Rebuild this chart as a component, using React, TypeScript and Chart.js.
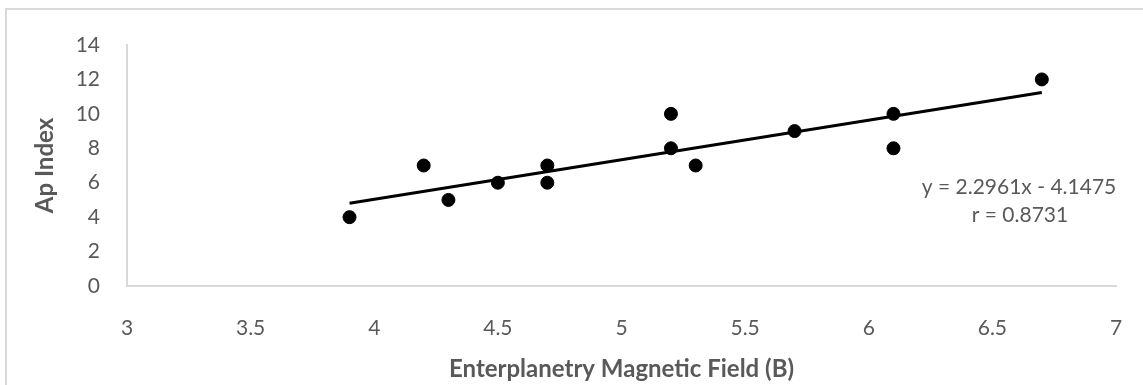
import React, { useEffect, useRef } from "react";
import { Chart, registerables } from "chart.js";

Chart.register(...registerables);

const fieldB = [3.9, 4.2, 4.3, 4.5, 4.7, 4.7, 5.2, 5.2, 5.3, 5.7, 6.1, 6.1, 6.7];
const apIndex = [4, 7, 5, 6, 7, 6, 10, 8, 7, 9, 10, 8, 12];
const trendSlope = 2.2961;
const trendIntercept = -4.1475;
const trendX = [3.9, 6.7];
const equationLines = ["y = 2.2961x - 4.1475", "r = 0.8731"];
const xTitle = "Enterplanetry Magnetic Field (B)";
const yTitle = "Ap Index";

const TEXT = "#595959";
const FONT = "Lato, 'Open Sans', sans-serif";

export default function App() {
  const ref = useRef<HTMLCanvasElement | null>(null);

  useEffect(() => {
    if (!ref.current) return;
    const equationPlugin = {
      id: "equation",
      afterDatasetsDraw(chart: any) {
        const ctx = chart.ctx;
        ctx.save();
        ctx.fillStyle = TEXT;
        ctx.font = `21px ${FONT}`;
        ctx.textAlign = "center";
        ctx.textBaseline = "middle";
        ctx.fillText(equationLines[0], 1019, 187);
        ctx.fillText(equationLines[1], 1020, 215);
        ctx.restore();
      },
    };
    const chart = new Chart(ref.current, {
      type: "scatter",
      data: {
        datasets: [
          {
            label: "Data",
            data: fieldB.map((x, i) => ({ x, y: apIndex[i] })),
            backgroundColor: "#000000",
            borderColor: "#000000",
            pointRadius: 6.5,
            pointHoverRadius: 6.5,
            order: 1,
          },
          {
            label: "Trend",
            type: "line",
            data: trendX.map((x) => ({ x, y: trendSlope * x + trendIntercept })),
            borderColor: "#000000",
            borderWidth: 3,
            pointRadius: 0,
            fill: false,
            order: 2,
          } as any,
        ],
      },
      options: {
        animation: false,
        responsive: false,
        maintainAspectRatio: false,
        layout: { padding: { left: 0, right: 27, top: 45, bottom: 0 } },
        plugins: {
          legend: { display: false },
          tooltip: { enabled: false },
        },
        scales: {
          x: {
            type: "linear",
            min: 3,
            max: 7,
            ticks: {
              stepSize: 0.5,
              color: TEXT,
              font: { family: FONT, size: 21 },
              padding: 22,
              callback: (v: any) => String(v),
            },
            grid: { display: false },
            border: { display: true, color: "#d9d9d9", width: 2 },
            title: {
              display: true,
              text: xTitle,
              color: TEXT,
              font: { family: FONT, size: 24, weight: "bold" },
              padding: { top: 0, bottom: 1 },
            },
            afterFit(scale: any) {
              scale.height = 385 - 286;
              scale.paddingLeft = 0;
              scale.paddingRight = 0;
            },
          },
          y: {
            type: "linear",
            min: 0,
            max: 14,
            ticks: {
              stepSize: 2,
              color: TEXT,
              font: { family: FONT, size: 21 },
              padding: 19,
              callback: (v: any) => String(v),
            },
            grid: { display: false },
            border: { display: true, color: "#d9d9d9", width: 2 },
            title: {
              display: true,
              text: yTitle,
              color: TEXT,
              font: { family: FONT, size: 24, weight: "bold" },
              padding: { top: 31, bottom: 0 },
            },
            afterFit(scale: any) {
              scale.width = 127;
              scale.paddingTop = 0;
              scale.paddingBottom = 0;
            },
          },
        },
      },
      plugins: [equationPlugin],
    });
    return () => chart.destroy();
  }, []);

  return (
    <div style={{ position: "fixed", left: 0, top: 0, width: 1143, height: 385, background: "#fff" }}>
      <div
        style={{
          position: "absolute",
          left: 5,
          top: 8,
          width: 1160,
          height: 400,
          border: "2px solid #d9d9d9",
          boxSizing: "border-box",
        }}
      />
      <canvas ref={ref} width={1143} height={385} style={{ position: "absolute", left: 0, top: 0 }} />
    </div>
  );
}
